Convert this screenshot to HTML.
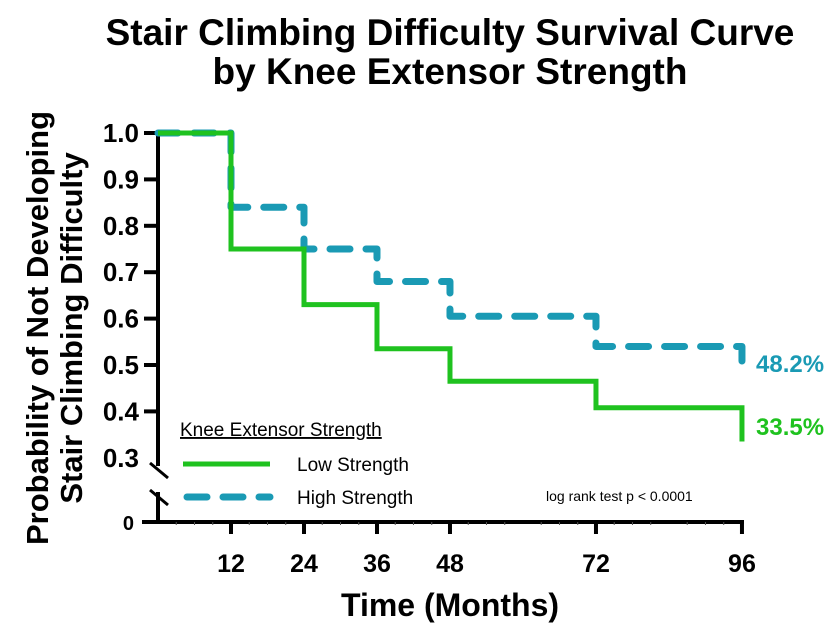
<!DOCTYPE html>
<html><head><meta charset="utf-8"><style>
body{margin:0;background:#fff}
svg{display:block;font-family:"Liberation Sans",Arial,sans-serif}
</style></head><body>
<svg id="chart" width="838" height="628" viewBox="0 0 838 628">
<g font-weight="bold" font-size="37" text-anchor="middle" fill="#000">
<text x="450" y="45">Stair Climbing Difficulty Survival Curve</text>
<text x="450" y="84">by Knee Extensor Strength</text>
</g>
<g font-weight="bold" font-size="31" text-anchor="middle" transform="translate(0,328) rotate(-90)">
<text x="0" y="48">Probability of Not Developing</text>
<text x="0" y="82">Stair Climbing Difficulty</text>
</g>
<text x="450" y="616" font-weight="bold" font-size="32" text-anchor="middle">Time (Months)</text>
<g id="axes"></g>
<g id="series"></g>
<g>
<text x="180" y="436" font-size="19" text-decoration="underline">Knee Extensor Strength</text>
<line x1="183" y1="464" x2="270" y2="464" stroke="#1fc21f" stroke-width="5"/>
<text x="297" y="471" font-size="19">Low Strength</text>
<line x1="187" y1="497" x2="270" y2="497" stroke="#1a9ab4" stroke-width="7" stroke-dasharray="20 16" stroke-linecap="round"/>
<text x="297" y="504" font-size="19">High Strength</text>
</g>
<text x="546" y="501" font-size="14">log rank test p &lt; 0.0001</text>
<text x="756" y="372" font-size="24" font-weight="bold" fill="#1a9ab4">48.2%</text>
<text x="756" y="435" font-size="24" font-weight="bold" fill="#1fc21f">33.5%</text>
</svg>
<script>
const xTicks=[12,24,36,48,72,96];
const yTicks=[0.4,0.5,0.6,0.7,0.8,0.9,1.0];
const yTickLabels=["0.4","0.5","0.6","0.7","0.8","0.9","1.0"];
const lowTimes=[0,12,24,36,48,72,96];
const lowValues=[1.0,0.75,0.63,0.535,0.465,0.408,0.335];
const highTimes=[0,12,24,36,48,72,96];
const highValues=[1.0,0.84,0.75,0.68,0.605,0.54,0.482];
const NS='http://www.w3.org/2000/svg';
const X0=158,PXM=6.083;
function xs(t){return X0+t*PXM;}
function ys(v){return v<=0?522:133+(1-v)*464;}
function mk(tag,attrs,parent){const e=document.createElementNS(NS,tag);for(const k in attrs)e.setAttribute(k,attrs[k]);parent.appendChild(e);return e;}
const ax=document.getElementById('axes');
let e=mk('line',{x1:158,y1:131,x2:158,y2:466,stroke:'#000','stroke-width':4},ax);


e=mk('line',{x1:158,y1:492,x2:158,y2:522,stroke:'#000','stroke-width':4},ax);


e=mk('line',{x1:150,y1:463,x2:168,y2:478,stroke:'#000','stroke-width':3},ax);


e=mk('line',{x1:150,y1:490,x2:168,y2:505,stroke:'#000','stroke-width':3},ax);


e=mk('line',{x1:142,y1:522,x2:744,y2:522,stroke:'#000','stroke-width':4},ax);


for(let m=3;m<96;m+=3){if(m%12===0)continue;e=mk('line',{x1:xs(m),y1:522,x2:xs(m),y2:525,stroke:'#555','stroke-width':1},ax);

}
xTicks.forEach(t=>{e=mk('line',{x1:xs(t),y1:522,x2:xs(t),y2:534,stroke:'#000','stroke-width':4},ax);


e=mk('text',{x:xs(t),y:572,'font-size':25,'font-weight':'bold','text-anchor':'middle'},ax);e.textContent=t;

});
yTicks.forEach((v,i)=>{e=mk('line',{x1:144,y1:ys(v),x2:158,y2:ys(v),stroke:'#000','stroke-width':4},ax);


e=mk('text',{x:139,y:ys(v)+9,'font-size':26,'font-weight':'bold','text-anchor':'end'},ax);e.textContent=yTickLabels[i];

});
e=mk('text',{x:139,y:ys(0.3)+9,'font-size':26,'font-weight':'bold','text-anchor':'end'},ax);e.textContent='0.3';


e=mk('line',{x1:144,y1:522,x2:158,y2:522,stroke:'#000','stroke-width':4},ax);


e=mk('text',{x:134,y:530,'font-size':20,'font-weight':'bold','text-anchor':'end'},ax);e.textContent='0';


function stepPath(ts,vs){let d='M'+xs(ts[0])+','+ys(vs[0]);for(let i=1;i<ts.length;i++){d+=' H'+xs(ts[i])+' V'+ys(vs[i]);}return d;}
const sg=document.getElementById('series');
e=mk('path',{d:stepPath(highTimes,highValues),fill:'none',stroke:'#1a9ab4','stroke-width':7,'stroke-dasharray':'20 16','stroke-linecap':'round','stroke-linejoin':'round'},sg);


e=mk('path',{d:stepPath(lowTimes,lowValues),fill:'none',stroke:'#1fc21f','stroke-width':5},sg);


</script>
</body></html>
